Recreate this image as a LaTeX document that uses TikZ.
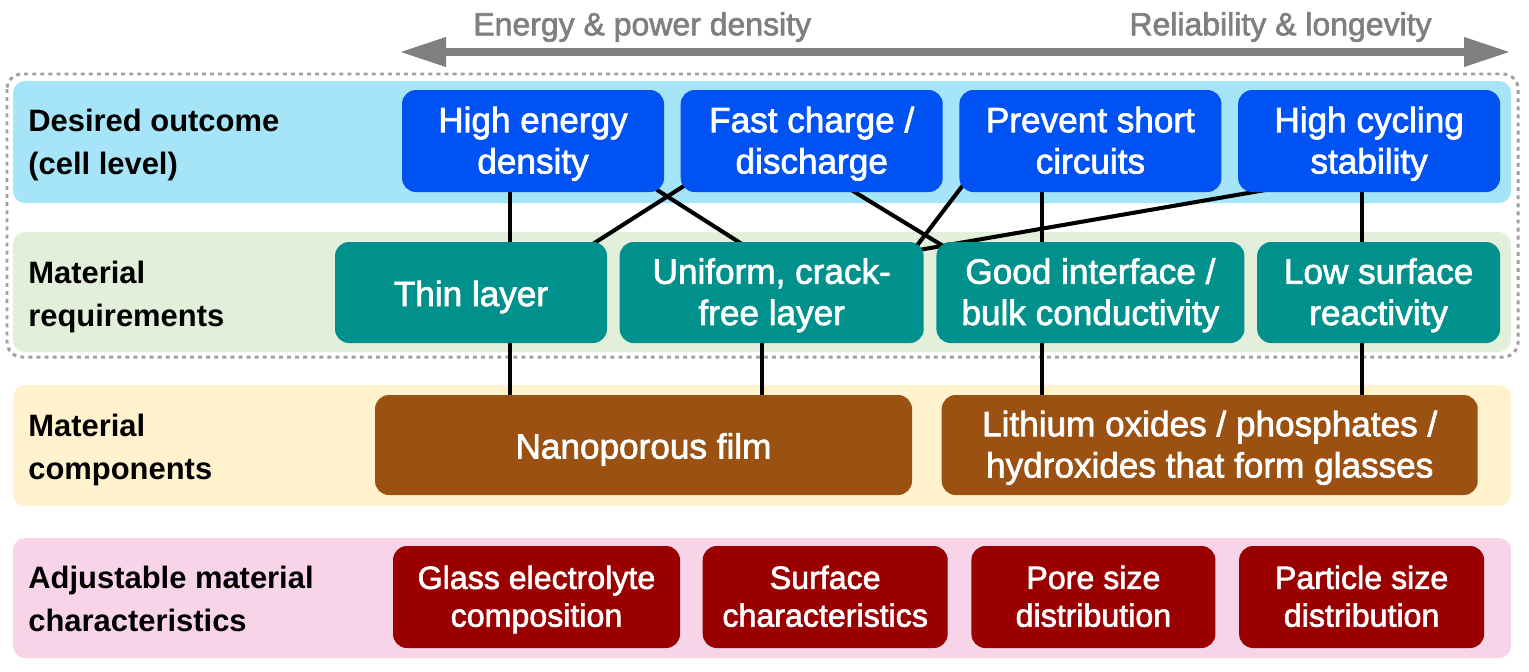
\documentclass[tikz,border=0pt]{standalone}
\usepackage{fontspec}
\setmainfont{Liberation Sans}
\newfontfamily\boxfont[FakeBold=2]{Liberation Sans}
\usetikzlibrary{arrows.meta}
\usetikzlibrary{positioning}
\definecolor{lanecyan}{HTML}{A6E4F8}
\definecolor{lanegreen}{HTML}{E2EFDA}
\definecolor{laneyellow}{HTML}{FFF2CC}
\definecolor{lanepink}{HTML}{F8D4E8}
\definecolor{outcomeblue}{HTML}{0052F2}
\definecolor{reqteal}{HTML}{00918C}
\definecolor{compbrown}{HTML}{9A5112}
\definecolor{charred}{HTML}{9A0000}
\definecolor{trendgray}{HTML}{7F7F7F}
\definecolor{framegray}{HTML}{A0A0A0}
\pgfdeclarelayer{lanes}
\pgfdeclarelayer{wires}
\pgfsetlayers{lanes,wires,main}
\tikzset{%
	% Specifications for style of nodes:
	base/.style = {rectangle, rounded corners=0.28cm, text=white,
		align=center, minimum height=2.04cm, inner sep=2pt,
		execute at begin node=\strut, text depth=1pt,
		font=\boxfont\fontsize{20}{23.5}\selectfont},
	outcome/.style = {base, fill=outcomeblue, minimum width=5.24cm},
	requirement/.style = {base, fill=reqteal, minimum height=2.02cm},
	component/.style = {base, fill=compbrown, minimum height=2cm},
	characteristic/.style = {base, fill=charred,
		font=\boxfont\fontsize{18.3}{21.5}\selectfont},
	lanelabel/.style = {anchor=west, align=left, inner sep=0pt,
		execute at begin node=\strut, text depth=0pt,
		font=\bfseries\fontsize{17.6}{24.5}\selectfont},
	lane/.style = {rounded corners=0.24cm},
	wire/.style = {draw=black, line width=2.3pt},
	trend/.style = {text=trendgray, inner sep=0pt,
		font=\boxfont\fontsize{18.2}{22}\selectfont},
}
\begin{document}
\begin{tikzpicture}[node distance=0.32cm]
		\useasboundingbox (0,0) rectangle (30.58,-13.42);
		% Lanes and dotted frame
		\begin{pgfonlayer}{lanes}
		\draw[framegray, line width=1.7pt, dash pattern=on 2.2pt off 2.4pt, rounded corners=0.3cm] (0.14,-1.48) rectangle (30.36,-7.14);
		\fill[lane, lanecyan]   (0.26,-1.62) rectangle (30.22,-4.06);
		\fill[lane, lanegreen]  (0.26,-4.64) rectangle (30.22,-7.04);
		\fill[lane, laneyellow] (0.26,-7.70) rectangle (30.22,-10.12);
		\fill[lane, lanepink]   (0.26,-10.76) rectangle (30.22,-13.16);
		\end{pgfonlayer}
		% Trend arrow on top
		\coordinate (axl) at (8.0,-1.04);
		\coordinate (axr) at (30.2,-1.04);
		\draw[trendgray, line width=4pt, {Triangle[length=0.92cm,width=0.56cm]}-{Triangle[length=0.92cm,width=0.56cm]}] (axl) -- (axr);
		\node (tl) [trend, anchor=west] at (9.46,-0.54) {Energy \& power density};
		\node (tr) [trend, anchor=east] at (28.64,-0.54) {Reliability \& longevity};
		% Lane labels
		\node (l1) [lanelabel] at (0.56,-2.84)  {Desired outcome\\(cell level)};
		\node (l2) [lanelabel] at (0.56,-5.88)  {Material\\requirements};
		\node (l3) [lanelabel] at (0.56,-8.93)  {Material\\components};
		\node (l4) [lanelabel] at (0.56,-11.98) {Adjustable material\\characteristics};
		% Desired outcome
		\node (b1) [outcome] at (10.66,-2.82) {High energy\\density};
		\node (b2) [outcome, right=of b1] {Fast charge /\\discharge};
		\node (b3) [outcome, right=of b2] {Prevent short\\circuits};
		\node (b4) [outcome, right=of b3] {High cycling\\stability};
		% Material requirements
		\node (t1) [requirement, minimum width=5.44cm] at (9.42,-5.85) {Thin layer};
		\node (t2) [requirement, minimum width=6.08cm, right=0.24cm of t1] {Uniform, crack-\\free layer};
		\node (t3) [requirement, minimum width=6.16cm, right=0.24cm of t2] {Good interface /\\bulk conductivity};
		\node (t4) [requirement, minimum width=4.86cm, right=0.24cm of t3] {Low surface\\reactivity};
		% Material components
		\node (n1) [component, minimum width=10.74cm] at (12.87,-8.9) {Nanoporous film};
		\node (n2) [component, minimum width=10.72cm, right=0.58cm of n1] {Lithium oxides / phosphates /\\hydroxides that form glasses};
		% Adjustable characteristics
		\node (r1) [characteristic, minimum width=5.74cm] at (10.73,-11.94) {Glass electrolyte\\composition};
		\node (r2) [characteristic, minimum width=4.9cm, right=0.44cm of r1] {Surface\\characteristics};
		\node (r3) [characteristic, minimum width=4.88cm, right=0.46cm of r2] {Pore size\\distribution};
		\node (r4) [characteristic, minimum width=4.9cm, right=0.46cm of r3] {Particle size\\distribution};
		% Links (under the boxes)
		\coordinate (v1) at (10.2,0);
		\coordinate (v2) at (15.24,0);
		\coordinate (v3) at (20.84,0);
		\coordinate (v4) at (27.24,0);
		\begin{pgfonlayer}{wires}
		\draw[wire] (b1 -| v1) -- (t1 -| v1);
		\draw[wire] (b3 -| v3) -- (t3 -| v3);
		\draw[wire] (b4 -| v4) -- (t4 -| v4);
		\draw[wire] ([shift={(0.4,0.338)}]b2.south west) -- ([shift={(-0.54,-0.206)}]t1.north east);
		\draw[wire] ([shift={(-0.6,0.338)}]b1.south east) -- ([shift={(2.7,-0.206)}]t2.north west);
		\draw[wire] ([shift={(-2.16,0.246)}]b2.south east) -- ([shift={(0.5,-0.306)}]t3.north west);
		\draw[wire] ([shift={(0.16,0.252)}]b3.south west) -- ([shift={(-0.3,-0.286)}]t2.north east);
		\draw[wire] ([shift={(0.88,0.104)}]b4.south west) -- ([shift={(-0.46,-0.228)}]t2.north east);
		\draw[wire] (t1 -| v1) -- (n1 -| v1);
		\draw[wire] (t2 -| v2) -- (n1 -| v2);
		\draw[wire] (t3 -| v3) -- (n2 -| v3);
		\draw[wire] (t4 -| v4) -- (n2 -| v4);
		\end{pgfonlayer}
	\end{tikzpicture}
\end{document}
